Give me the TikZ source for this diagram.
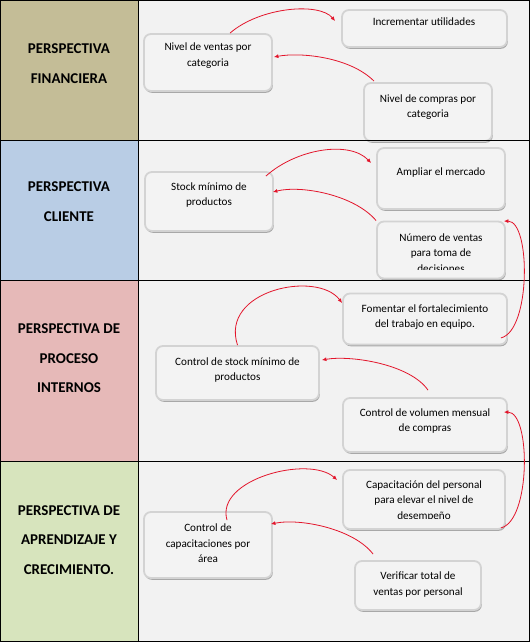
\documentclass[tikz,border=0pt]{standalone}
\usepackage{fontspec}
\setmainfont{Carlito}
\usetikzlibrary{arrows.meta,shadows}

\definecolor{finanzas}{HTML}{C4BD97}
\definecolor{cliente}{HTML}{B9CDE5}
\definecolor{procesos}{HTML}{E6B9B8}
\definecolor{aprendizaje}{HTML}{D7E4BD}
\definecolor{panel}{HTML}{F2F2F2}
\definecolor{cardfill}{HTML}{F3F3F3}
\definecolor{cardline}{HTML}{D3D3D3}
\definecolor{flowred}{HTML}{E3152B}

\begin{document}
\begin{tikzpicture}[x=1bp, y=-1bp,
    card/.style={draw=cardline, fill=cardfill, line width=1.8bp, rounded corners=7bp, inner sep=0pt,
        drop shadow={shadow xshift=0.8bp, shadow yshift=-1.8bp, fill=black, opacity=0.3}},
    cardtext/.style={align=center, inner sep=0pt, font=\fontsize{11.2}{15.5}\selectfont},
    rowlabel/.style={align=center, inner sep=0pt, font=\fontsize{15}{29.5}\selectfont\bfseries},
    flow/.style={draw=flowred, line width=0.8bp, -{Latex[length=4.5bp,width=4bp]}}]
    \useasboundingbox (0,0) rectangle (530,642);

    % Row backgrounds
    \fill[panel] (138,0) rectangle (530,642);
    \fill[finanzas] (0,0) rectangle (138,141);
    \fill[cliente] (0,141) rectangle (138,280);
    \fill[procesos] (0,280) rectangle (138,461);
    \fill[aprendizaje] (0,461) rectangle (138,642);

    % Row labels
    \node[rowlabel] (lblfin) at (69,63.5) {PERSPECTIVA\\FINANCIERA};
    \node[rowlabel] (lblcli) at (69,201.5) {PERSPECTIVA\\CLIENTE};
    \node[rowlabel] (lblpro) at (69,358.5) {PERSPECTIVA DE\\PROCESO\\INTERNOS};
    \node[rowlabel] (lblapr) at (69,540) {PERSPECTIVA DE\\APRENDIZAJE Y\\CRECIMIENTO.};

    % Financiera
    \node[card, minimum width=165bp, minimum height=37bp] (utilidades) at (424.5,28.5) {};
    \node[card, minimum width=128bp, minimum height=57bp] (ventas) at (208,62.5) {};
    \node[card, minimum width=128bp, minimum height=58bp] (compras) at (428,112) {};
    \node[cardtext] (utilidadest) at (424,22) {Incrementar utilidades};
    \node[cardtext] (ventast) at (208,55.5) {Nivel de ventas por\\categoria};
    \node[cardtext] (comprast) at (428,107) {Nivel de compras por\\categoria};

    % Cliente
    \node[card, minimum width=128bp, minimum height=61bp] (ampliar) at (441,178.5) {};
    \node[card, minimum width=128bp, minimum height=59bp] (stock) at (209,201.5) {};
    \node[card, minimum width=128bp, minimum height=57bp] (numero) at (441,250) {};
    \node[cardtext] (ampliart) at (441,173) {Ampliar el mercado};
    \node[cardtext] (stockt) at (209,195) {Stock mínimo de\\productos};
    \begin{scope}
        \clip ([yshift=10bp]numero.south west) rectangle (numero.north east);
        \node[cardtext] (numerot) at (441,253) {Número de ventas\\para toma de\\decisiones};
    \end{scope}

    % Procesos internos
    \node[card, minimum width=164bp, minimum height=51bp] (fomentar) at (425,319) {};
    \node[card, minimum width=163bp, minimum height=54bp] (ctrlstock) at (237.5,373) {};
    \node[card, minimum width=164bp, minimum height=54bp] (volumen) at (425,425) {};
    \node[cardtext] (fomentart) at (425,317) {Fomentar el fortalecimiento\\del trabajo en equipo.};
    \node[cardtext] (ctrlstockt) at (237.5,370) {Control de stock mínimo de\\productos};
    \node[cardtext] (volument) at (425,421) {Control de volumen mensual\\de compras};

    % Aprendizaje y crecimiento
    \node[card, minimum width=162bp, minimum height=59bp] (capacitacion) at (424,499.5) {};
    \node[card, minimum width=128bp, minimum height=66bp] (ctrlcap) at (208,545) {};
    \node[card, minimum width=126bp, minimum height=49bp] (verificar) at (418,585.5) {};
    \begin{scope}
        \clip ([yshift=11bp]capacitacion.south west) rectangle (capacitacion.north east);
        \node[cardtext] (capacitaciont) at (424,501) {Capacitación del personal\\para elevar el nivel de\\desempeño};
    \end{scope}
    \node[cardtext] (ctrlcapt) at (208,543.5) {Control de\\capacitaciones por\\área};
    \node[cardtext] (verificart) at (418,584.5) {Verificar total de\\ventas por personal};

    % Table lines
    \draw[line width=1bp] (0.5,0.5) rectangle (529,641);
    \draw[line width=1bp] (138,0) -- (138,642);
    \foreach \y in {141,280,461}
        \draw[line width=1bp] (0,\y) -- (529,\y);

    % Relations
    \draw[flow] ([xshift=22bp]ventas.north) .. controls +(30,-26) and +(-16,-19) .. ([xshift=-6bp,yshift=7.5bp]utilidades.west);
    \draw[flow] ([xshift=-54bp,yshift=1bp]compras.north) .. controls +(-24,-24) and +(27,-5) .. ([xshift=1bp,yshift=5.5bp]ventas.east);
    \draw[flow] ([xshift=-8bp,yshift=-5bp]stock.north east) .. controls +(30,-27) and +(-22,-23) .. ([xshift=-5bp,yshift=15.5bp]ampliar.west);
    \draw[flow] (numero.north west) .. controls +(-22,-26) and +(28,-7) .. ([xshift=-1bp,yshift=9.5bp]stock.east);
    \draw[flow] ([xshift=-7bp,yshift=7.5bp]fomentar.south east) .. controls +(30,-7) and +(27,0) .. ([xshift=-2bp,yshift=-0.5bp]numero.north east);
    \draw[flow] (ctrlstock.north) .. controls +(-18,-55) and +(-25,-33) .. ([yshift=16bp]fomentar.west);
    \draw[flow] ([xshift=3bp,yshift=7bp]volumen.north) .. controls +(-18,-26) and +(29,-5) .. ([xshift=2bp,yshift=13bp]ctrlstock.east);
    \draw[flow] ([xshift=-5bp,yshift=2bp]capacitacion.south east) .. controls +(30,-7) and +(27,0) .. ([xshift=-4bp,yshift=-15bp]volumen.north east);
    \draw[flow] ([xshift=19bp,yshift=-9bp]ctrlcap.north) .. controls +(-12,-41) and +(-28,-25) .. ([xshift=-5bp,yshift=19.5bp]capacitacion.west);
    \draw[flow] ([xshift=19bp,yshift=6bp]verificar.north west) .. controls +(-19,-25) and +(30,-6) .. ([xshift=-2bp,yshift=21bp]ctrlcap.east);
\end{tikzpicture}
\end{document}
